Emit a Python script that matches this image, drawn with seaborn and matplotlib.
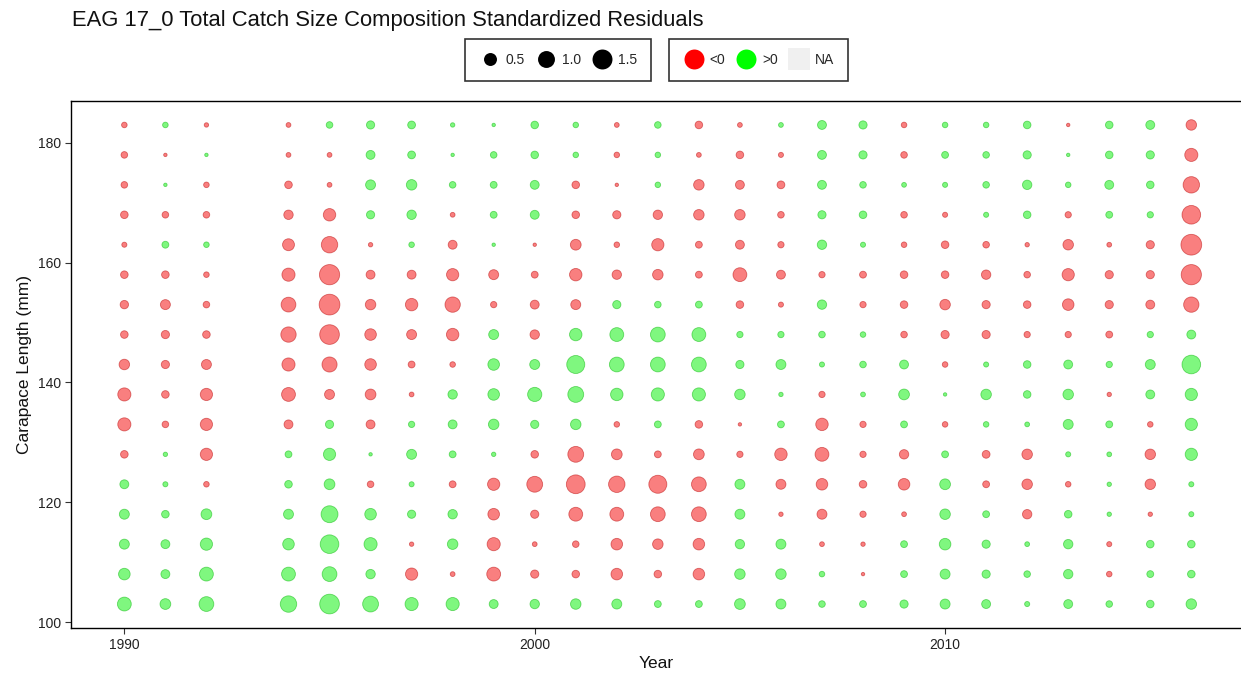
import numpy as np
import pandas as pd
import matplotlib
matplotlib.use("Agg")
import matplotlib.pyplot as plt
from matplotlib.lines import Line2D
import seaborn as sns

# ---- data (standardized residuals, rows listed from 183 mm down to 103 mm) ----
lengths = [183, 178, 173, 168, 163, 158, 153, 148, 143, 138, 133, 128, 123, 118, 113, 108, 103]

r1990 = [-0.03, -0.06, -0.06, -0.10, -0.02, -0.10, -0.14, -0.10, -0.28, -0.52, -0.52, -0.10, 0.17, 0.24, 0.24, 0.37, 0.60]
r1991 = [0.03, -0.005, 0.005, -0.06, 0.07, -0.10, -0.24, -0.13, -0.13, -0.10, -0.06, 0.01, 0.02, 0.10, 0.17, 0.17, 0.30]
r1992 = [-0.01, 0.005, -0.03, -0.06, 0.03, -0.03, -0.06, -0.10, -0.24, -0.43, -0.43, -0.43, -0.03, 0.30, 0.43, 0.60, 0.71]
r1994 = [-0.015, -0.015, -0.10, -0.20, -0.40, -0.52, -0.71, -0.78, -0.52, -0.60, -0.17, 0.07, 0.10, 0.24, 0.37, 0.60, 0.93]
r1995 = [0.06, -0.015, -0.015, -0.45, -0.93, -1.55, -1.65, -1.45, -0.75, -0.24, 0.13, 0.43, 0.30, 1.00, 1.27, 0.71, 1.45]
r1996 = [0.13, 0.17, 0.24, 0.13, -0.01, -0.17, -0.28, -0.37, -0.37, -0.30, -0.17, 0.005, -0.06, 0.37, 0.52, 0.20, 0.85]
r1997 = [0.11, 0.11, 0.28, 0.20, 0.03, -0.17, -0.45, -0.24, -0.07, -0.015, 0.05, 0.24, 0.02, 0.13, -0.01, -0.43, 0.52]
r1998 = [0.01, 0.005, 0.06, -0.015, -0.17, -0.43, -0.78, -0.45, -0.03, 0.20, 0.17, 0.07, -0.07, 0.20, 0.28, -0.015, 0.52]
r1999 = [0.005, 0.06, 0.07, 0.07, 0.005, -0.24, -0.05, 0.24, 0.37, 0.37, 0.28, 0.01, -0.43, -0.37, -0.52, -0.60, 0.17]
r2000 = [0.10, 0.10, 0.17, 0.17, -0.005, -0.07, -0.17, -0.20, 0.24, 0.64, 0.13, -0.10, -0.85, -0.13, -0.015, -0.13, 0.20]
r2001 = [0.03, 0.03, -0.10, -0.10, -0.30, -0.45, -0.24, 0.45, 1.17, 0.85, 0.28, -0.85, -1.30, -0.60, -0.06, -0.10, 0.28]
r2002 = [-0.015, -0.03, -0.005, -0.13, -0.03, -0.20, 0.13, 0.60, 0.71, 0.45, -0.03, -0.30, -0.93, -0.60, -0.37, -0.37, 0.24]
r2003 = [0.06, 0.03, 0.03, -0.20, -0.43, -0.28, 0.06, 0.71, 0.71, 0.52, 0.07, -0.07, -1.17, -0.71, -0.28, -0.10, 0.07]
r2004 = [-0.10, -0.015, -0.28, -0.28, -0.07, -0.07, 0.07, 0.60, 0.71, 0.52, -0.10, -0.30, -0.71, -0.71, -0.37, -0.37, 0.07]
r2005 = [-0.015, -0.10, -0.17, -0.28, -0.17, -0.60, -0.10, 0.05, 0.13, 0.28, -0.005, -0.05, 0.24, 0.24, 0.20, 0.28, 0.30]
r2006 = [0.015, -0.02, -0.11, -0.06, -0.05, -0.17, -0.02, 0.05, 0.24, 0.01, 0.07, -0.45, -0.24, -0.01, 0.24, 0.28, 0.24]
r2007 = [0.17, 0.17, 0.17, 0.13, 0.20, -0.05, 0.20, 0.06, 0.02, -0.05, -0.45, -0.60, -0.37, -0.24, -0.015, 0.03, 0.06]
r2008 = [0.13, 0.13, 0.06, 0.10, 0.02, -0.07, -0.05, 0.03, 0.06, 0.015, -0.05, -0.05, -0.10, -0.05, -0.01, -0.005, 0.07]
r2009 = [-0.03, -0.06, 0.015, -0.06, -0.03, -0.10, -0.10, -0.06, 0.17, 0.30, 0.07, -0.20, -0.37, -0.015, 0.07, 0.07, 0.13]
r2010 = [0.03, 0.07, 0.02, -0.02, -0.10, -0.10, -0.28, -0.13, -0.03, 0.005, -0.03, 0.07, 0.30, 0.28, 0.37, 0.24, 0.24]
r2011 = [0.03, 0.06, 0.06, 0.02, -0.06, -0.20, -0.13, -0.13, 0.02, 0.28, 0.03, -0.11, -0.07, 0.07, 0.13, 0.13, 0.17]
r2012 = [0.10, 0.13, 0.20, 0.10, -0.01, -0.06, -0.10, -0.05, 0.10, 0.10, 0.015, -0.28, -0.28, -0.20, 0.015, 0.06, 0.02]
r2013 = [-0.005, 0.005, 0.03, -0.05, -0.28, -0.43, -0.37, -0.05, 0.17, 0.28, 0.24, 0.02, -0.03, 0.10, 0.20, 0.20, 0.17]
r2014 = [0.10, 0.10, 0.17, 0.07, -0.015, -0.13, -0.13, -0.07, 0.05, -0.01, 0.07, 0.015, 0.01, 0.01, -0.02, -0.03, 0.06]
r2015 = [0.17, 0.13, 0.10, 0.05, -0.13, -0.13, -0.17, 0.05, 0.24, 0.17, -0.03, -0.28, -0.28, -0.01, 0.10, 0.07, 0.10]
r2016 = [-0.28, -0.52, -0.93, -1.27, -1.65, -1.55, -0.78, 0.17, 1.27, 0.43, 0.43, 0.43, 0.02, 0.02, 0.10, 0.10, 0.28]

years = [1990, 1991, 1992, 1994, 1995, 1996, 1997, 1998, 1999, 2000, 2001, 2002, 2003,
         2004, 2005, 2006, 2007, 2008, 2009, 2010, 2011, 2012, 2013, 2014, 2015, 2016]
residuals = [r1990, r1991, r1992, r1994, r1995, r1996, r1997, r1998, r1999, r2000, r2001, r2002, r2003,
             r2004, r2005, r2006, r2007, r2008, r2009, r2010, r2011, r2012, r2013, r2014, r2015, r2016]

size_breaks = [0.5, 1.0, 1.5]
title = "EAG 17_0 Total Catch Size Composition Standardized Residuals"

# ---- long table ----
rows = []
for yr, vals in zip(years, residuals):
    for L, v in zip(lengths, vals):
        rows.append((yr, L, v))
df = pd.DataFrame(rows, columns=["Year", "Length", "Resid"])
df["Sign"] = np.where(df["Resid"] < 0, "<0", ">0")
df["Abs"] = df["Resid"].abs()

vmin, vmax = df["Abs"].min(), df["Abs"].max()
K = 3.46        # px per ggplot size unit (approx.)
PX2PT = 0.72    # at dpi 100


def diam_px(v):
    return K * (1 + 5 * np.sqrt(np.clip((v - vmin) / (vmax - vmin), 0, 1)))


df["Area"] = (diam_px(df["Abs"]) * PX2PT) ** 2

# ---- figure ----
sns.set_theme(style="ticks")
plt.rcParams["font.family"] = ["Liberation Sans", "DejaVu Sans"]

W, H = 1241, 674
fig = plt.figure(figsize=(W / 100, H / 100), dpi=100)
ax = fig.add_axes([71 / W, 1 - 628 / H, (W - 71) / W, (628 - 101) / H])

palette = {"<0": "#F40000", ">0": "#00F000"}
sns.scatterplot(data=df, x="Year", y="Length", hue="Sign", palette=palette,
                size="Area", sizes=(df["Area"].min(), df["Area"].max()),
                size_norm=(df["Area"].min(), df["Area"].max()),
                alpha=0.5, linewidth=0.6, legend=False, ax=ax, zorder=3)
# edge colour same hue, slightly darker
coll = ax.collections[-1]
fc = coll.get_facecolors()
ec = fc.copy()
ec[:, :3] = ec[:, :3] * 0.75
coll.set_edgecolors(ec)

ax.set_xlim(1988.7, 2010 + (W - 945) / 41.05)
ax.set_ylim(99, 187)
ax.set_xticks([1990, 2000, 2010])
ax.set_yticks([100, 120, 140, 160, 180])
ax.tick_params(axis="both", labelsize=10, colors="#333333", length=4, width=0.8, pad=3)
ax.tick_params(axis="both", labelcolor="#222222")
for s in ["left", "bottom", "top"]:
    ax.spines[s].set_color("black")
    ax.spines[s].set_linewidth(1.0)
    ax.spines[s].set_visible(True)
ax.spines["right"].set_visible(False)
ax.set_xlabel("Year", fontsize=12.5, color="#111111", labelpad=3)
ax.set_ylabel("Carapace Length (mm)", fontsize=12.5, color="#111111", labelpad=4)

fig.text(72 / W, 1 - 26 / H, title, fontsize=15.8, color="#111111", va="baseline", ha="left")

# ---- legends ----
common = dict(ncol=3, frameon=True, fancybox=False, edgecolor="black", fontsize=10,
              handletextpad=0.35, columnspacing=0.7, borderpad=1.0, handlelength=1.6,
              borderaxespad=0)

size_handles = [Line2D([], [], linestyle="none", marker="o", color="black",
                       markersize=diam_px(b) * PX2PT, markeredgewidth=0) for b in size_breaks]
leg1 = fig.legend(size_handles, [f"{b:.1f}" for b in size_breaks],
                  loc="center left", bbox_to_anchor=(465 / W, 1 - 60 / H), **common)
leg1.get_frame().set_linewidth(1.2)

col_handles = [Line2D([], [], linestyle="none", marker="o", color="#FF0000",
                      markersize=diam_px(1.5) * PX2PT, markeredgewidth=0),
               Line2D([], [], linestyle="none", marker="o", color="#00FF00",
                      markersize=diam_px(1.5) * PX2PT, markeredgewidth=0),
               Line2D([], [], linestyle="none", marker="s", color="#F0F0F0",
                      markersize=diam_px(1.5) * PX2PT * 1.1, markeredgewidth=0)]
leg2 = fig.legend(col_handles, ["<0", ">0", "NA"],
                  loc="center right", bbox_to_anchor=(848 / W, 1 - 60 / H), **common)
leg2.get_frame().set_linewidth(1.2)

fig.savefig("out.png", dpi=100)
